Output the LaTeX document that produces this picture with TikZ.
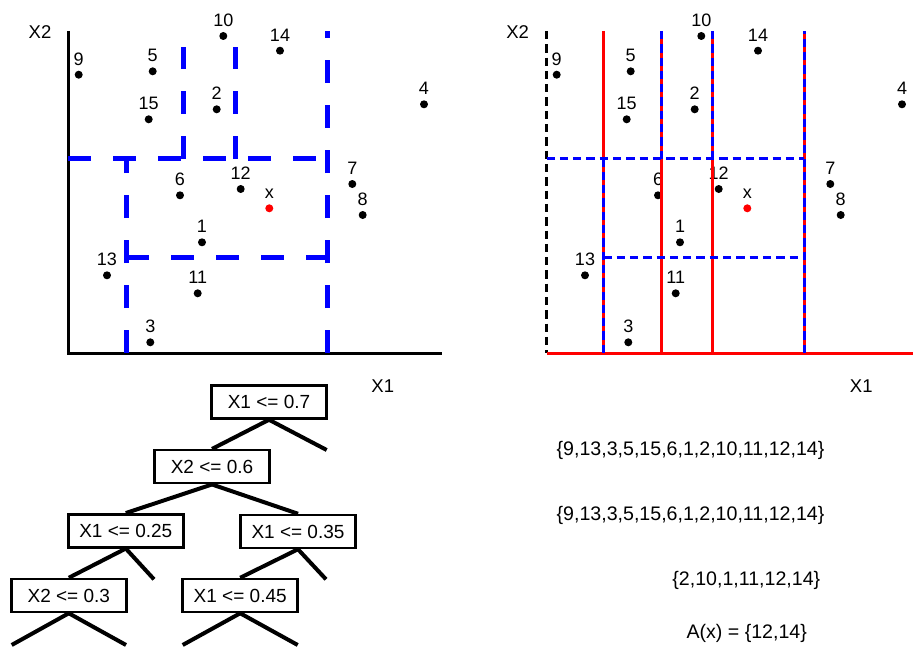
\documentclass[tikz,border=0pt]{standalone}
\usepackage{fontspec}
\setmainfont{Liberation Sans}
\usetikzlibrary{calc}
\begin{document}
\begin{tikzpicture}[x=1pt,y=-1pt,
  dot/.style={circle,fill=black,inner sep=0pt,minimum size=8pt},
  reddot/.style={circle,fill=red,inner sep=0pt,minimum size=8pt},
  lab/.style={font=\fontsize{18}{18}\selectfont,inner sep=0pt,anchor=base},
  axlab/.style={font=\fontsize{18.5}{18}\selectfont,inner sep=0pt},
  axis/.style={line width=3pt},
  bigdash/.style={draw=blue,line width=5pt,dash pattern=on 23pt off 22pt},
  smalldash/.style={draw=blue,line width=3pt,dash pattern=on 8.3pt off 5pt},
  redline/.style={draw=red,line width=3pt},
  box/.style={draw,line width=2.5pt,fill=white,minimum width=115pt,minimum height=33pt,inner sep=0pt,font=\fontsize{19}{19}\selectfont},
  edge/.style={line width=4pt},
  settext/.style={font=\fontsize{19.6}{19.6}\selectfont,inner sep=0pt}]
\useasboundingbox (0,0) rectangle (913,658);

% ---------------- Left plot ----------------
\coordinate (LO) at (68,353);
\coordinate (LT) at (68,31);
\coordinate (LR) at (442,353);
\draw[axis] (LT) -- (LO) -- (LR);
\node[axlab] (lx2) at (40,31.7) {X2};
\node[axlab] (lx1) at (382.8,386) {X1};

\foreach \n/\x/\y in {9/78.7/74.7, 5/152.7/71.3, 10/223.3/36, 14/280/50.7, 2/216.7/109.3,
  15/148.7/119.3, 4/424/104.3, 7/352.3/184, 8/362.7/215, 6/180/195.3, 12/240.7/189,
  1/202/242.3, 13/107/275.3, 11/197.7/293.3, 3/150.3/342.3} {
  \node[dot] (L\n) at (\x,\y) {};
  \node[lab] (Ll\n) at (\x,\y-9.5) {\n};
}
\node[reddot] (Lx) at (269.3,208.3) {};
\node[lab] (Llx) at (269.3,198.5) {x};

\coordinate (a1) at (68,159);
\coordinate (a2) at (327,159);
\coordinate (a3) at (327,353);
\coordinate (a4) at (327,31);
\coordinate (a5) at (126,353);
\coordinate (a6) at (126,159);
\coordinate (a7) at (126,257);
\coordinate (a8) at (327,257);
\coordinate (a9) at (183,159);
\coordinate (a10) at (183,47);
\coordinate (a11) at (235,159);
\coordinate (a12) at (235,47);
\draw[bigdash] (a1) -- (a2);
\draw[bigdash] (a3) -- (a4);
\draw[bigdash] (a5) -- (a6);
\draw[bigdash] (a7) -- (a8);
\draw[bigdash] (a9) -- (a10);
\draw[bigdash] (a11) -- (a12);

% ---------------- Right plot ----------------
\node[axlab] (rx2) at (517.7,31.7) {X2};
\node[axlab] (rx1) at (861.3,386) {X1};

\foreach \n/\x/\y in {9/78.7/74.7, 5/152.7/71.3, 10/223.3/36, 14/280/50.7, 2/216.7/109.3,
  15/148.7/119.3, 4/424/104.3, 7/352.3/184, 8/362.7/215, 6/180/195.3, 12/240.7/189,
  1/202/242.3, 13/107/275.3, 11/197.7/293.3, 3/150.3/342.3} {
  \node[dot] (R\n) at (\x+478,\y) {};
  \node[lab] (Rl\n) at (\x+478,\y-9.5) {\n};
}
\node[reddot] (Rx) at (747.3,208.3) {};
\node[lab] (Rlx) at (747.3,198.5) {x};

\coordinate (b0) at (546.5,31);
\coordinate (b1) at (546.5,353);
\coordinate (b2) at (913,353);
\draw[line width=3pt,dash pattern=on 8.3pt off 5pt] (b0) -- (b1);
\draw[redline] (b1) -- (b2);

\foreach \i/\x in {1/603.3,2/661,3/712.3,4/804} {
  \coordinate (rt\i) at (\x,31);
  \coordinate (rm\i) at (\x,159);
  \coordinate (rb\i) at (\x,353);
  \draw[redline] (rt\i) -- (rb\i);
}
\coordinate (h1) at (546.5,159);
\coordinate (h2) at (603.3,257);
\coordinate (h3) at (804,257);
\draw[smalldash] (rb1) -- (rm1);
\draw[smalldash] (rm2) -- (rt2);
\draw[smalldash] (rm3) -- (rt3);
\draw[smalldash] (rb4) -- (rt4);
\draw[smalldash] (h1) -- (rm4);
\draw[smalldash] (h2) -- (h3);

% ---------------- Tree ----------------
\coordinate (c1) at (326.7,450);
\coordinate (c2) at (154,579.3);
\coordinate (c3) at (326,579.3);
\coordinate (c4) at (11.7,645);
\coordinate (c5) at (126,645);
\coordinate (c6) at (182.7,645);
\coordinate (c7) at (297.7,645);

\node[box] (t1) at (269,402) {X1 <= 0.7};
\node[box] (t2) at (212,466.7) {X2 <= 0.6};
\node[box] (t3) at (125.8,530.8) {X1 <= 0.25};
\node[box] (t4) at (298,531.5) {X1 <= 0.35};
\node[box] (t5) at (68.8,595.5) {X2 <= 0.3};
\node[box] (t6) at (240.2,595.5) {X1 <= 0.45};

\draw[edge] (t1.south) -- (t2.north);
\draw[edge] (t1.south) -- (c1);
\draw[edge] (t2.south) -- (t3.north);
\draw[edge] (t2.south) -- (t4.north);
\draw[edge] (t3.south) -- (t5.north);
\draw[edge] (t3.south) -- (c2);
\draw[edge] (t4.south) -- (t6.north);
\draw[edge] (t4.south) -- (c3);
\draw[edge] (t5.south) -- (c4);
\draw[edge] (t5.south) -- (c5);
\draw[edge] (t6.south) -- (c6);
\draw[edge] (t6.south) -- (c7);

% ---------------- Sets ----------------
\node[settext] (s1) at (690.5,450) {\{9,13,3,5,15,6,1,2,10,11,12,14\}};
\node[settext] (s2) at (690.5,515) {\{9,13,3,5,15,6,1,2,10,11,12,14\}};
\node[settext] (s3) at (746.3,580) {\{2,10,1,11,12,14\}};
\node[settext] (s4) at (746.7,633.3) {A(x) = \{12,14\}};
\end{tikzpicture}
\end{document}
